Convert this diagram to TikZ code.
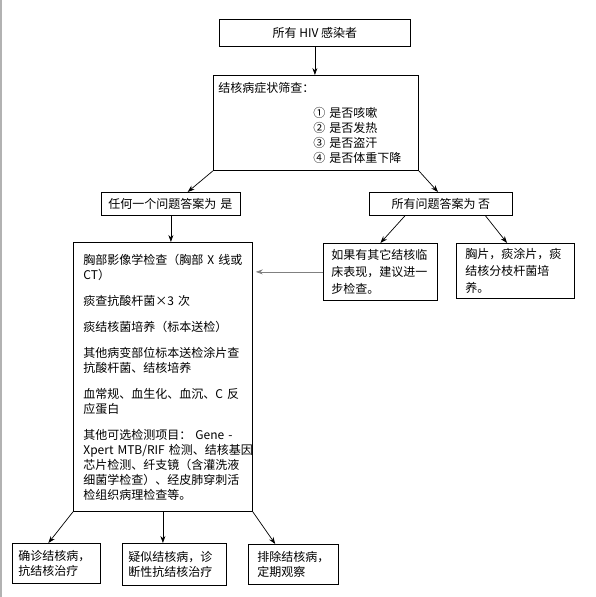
\documentclass[tikz,border=0pt]{standalone}
\usepackage{fontspec}
\setmainfont{Noto Sans CJK SC}
\usetikzlibrary{arrows.meta,calc}
\begin{document}
\begin{tikzpicture}[x=1pt,y=-1pt,
        caixa/.style={draw,line width=0.8pt,anchor=north west,inner ysep=0pt,align=left,font=\fontsize{12}{15}\selectfont},
        seta/.style={-{Stealth[length=7pt,width=5pt]},line width=0.7pt}]
        \useasboundingbox (0,0) rectangle (595,597);
        \draw[gray!60,line width=2pt] (1,0) -- (1,597);

        \node[caixa,align=center,inner xsep=0pt,minimum width=191pt,minimum height=27pt] (hiv) at (219,19) {所有 HIV 感染者};
        \node[caixa,text width=195pt,inner xsep=5pt,minimum height=95pt] (triagem) at (213,75) {结核病症状筛查：\\[10pt]
            \hspace*{95pt}① 是否咳嗽\\
            \hspace*{95pt}② 是否发热\\
            \hspace*{95pt}③ 是否盗汗\\
            \hspace*{95pt}④ 是否体重下降};

        \node[caixa,text width=125pt,inner xsep=7pt,minimum height=23pt] (sim) at (101,192) {任何一个问题答案为 是};
        \node[caixa,align=center,inner xsep=0pt,minimum width=143pt,minimum height=23pt] (nao) at (369,192) {所有问题答案为 否};

        \node[caixa,text width=159pt,inner xsep=10pt,minimum height=269pt] (exames) at (73,242) {胸部影像学检查（胸部~X~线或\\
            CT）\\[11pt]
            痰查抗酸杆菌×3~次\\[11pt]
            痰结核菌培养（标本送检）\\[11pt]
            其他病变部位标本送检涂片查\\
            抗酸杆菌、结核培养\\[11pt]
            血常规、血生化、血沉、C~反\\
            应蛋白\\[11pt]
            其他可选检测项目：~Gene~-\\
            Xpert~MTB/RIF~检测、结核基因\\
            芯片检测、纤支镜（含灌洗液\\
            细菌学检查）、经皮肺穿刺活\\
            检组织病理检查等。};

        \node[caixa,text width=98pt,inner xsep=8pt,minimum height=57pt,font=\fontsize{12}{17}\selectfont] (outros) at (323,243) {如果有其它结核临\\床表现，建议进一\\步检查。};
        \node[caixa,text width=100pt,inner xsep=9pt,minimum height=55pt,font=\fontsize{12}{17}\selectfont] (cultura) at (456,243) {胸片，痰涂片，痰\\结核分枝杆菌培\\养。};

        \node[caixa,text width=76pt,inner xsep=6pt,minimum height=40pt] (confirma) at (12,543) {确诊结核病，\\抗结核治疗};
        \node[caixa,text width=92pt,inner xsep=6pt,minimum height=42pt] (suspeita) at (122,543) {疑似结核病，诊\\断性抗结核治疗};
        \node[caixa,text width=72pt,inner xsep=9pt,minimum height=40pt] (exclui) at (248,544) {排除结核病，\\定期观察};

        \draw[seta] (hiv.south) -- (hiv.south |- triagem.north);
        \draw[seta] (triagem.south west) -- ($(sim.north west)!0.62!(sim.north east)$);
        \draw[seta] (triagem.south east) -- ($(nao.north west)!0.48!(nao.north east)$);
        \draw[seta] (sim.south) -- (sim.south |- exames.north);
        \draw[seta] ($(nao.south west)!0.25!(nao.south east)$) -- (outros.north);
        \draw[seta] ($(nao.south west)!0.81!(nao.south east)$) -- ($(cultura.north west)!0.43!(cultura.north east)$);
        \draw[seta,gray,shorten >=3pt] (outros.west) -- (outros.west -| exames.east);
        \draw[seta] (exames.south west) -- ($(confirma.north west)!0.41!(confirma.north east)$);
        \draw[seta] (exames.south) -- (exames.south |- suspeita.north);
        \draw[seta] (exames.south east) -- ($(exclui.north west)!0.3!(exclui.north east)$);
    \end{tikzpicture}
\end{document}
